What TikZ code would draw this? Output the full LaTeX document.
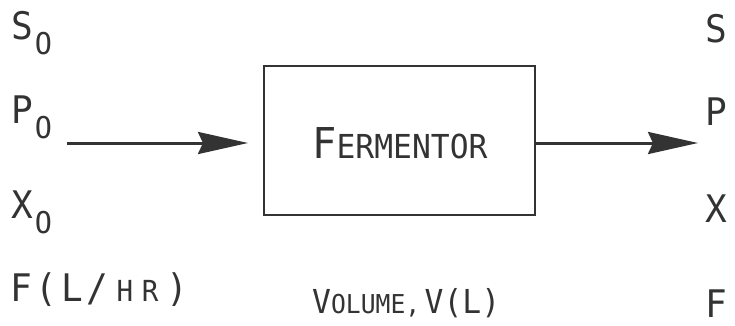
\documentclass[tikz,border=0pt]{standalone}
\usepackage{fontspec}
\setmainfont{DejaVu Sans Mono}[FakeStretch=0.95]
\usetikzlibrary{arrows.meta}
\newcommand{\bigc}{\fontsize{38}{38}\selectfont}
\newcommand{\smc}{\fontsize{26}{26}\selectfont}
\newcommand{\subo}{\hspace{2pt}\raisebox{-15pt}{\fontsize{30}{30}\selectfont O}}
\definecolor{ink}{gray}{0.2}
\begin{document}
\begin{tikzpicture}[x=1pt,y=-1pt,
  lbl/.style={anchor=base west,inner sep=0pt,text=ink},
  flow/.style={line width=3pt,draw=ink,-{Stealth[length=50pt,width=22pt,inset=5pt,fill=ink]}},
  vessel/.style={draw=ink,line width=2.6pt,minimum width=271pt,minimum height=149pt,inner sep=0pt}]
\useasboundingbox (0,0) rectangle (735,326);
% fermentor
\node[vessel] (ferm) at (399.5,140.5) {};
\node[lbl] (fermtxt) at (312,158) {{\fontsize{42.5}{42.5}\selectfont F}{\fontsize{33}{33}\selectfont ERMENTOR}};
\node[lbl] (vol) at (312,313) {{\fontsize{33}{33}\selectfont V}{\smc OLUME,\,}{\fontsize{33}{33}\selectfont V(L)}};
% inlet labels
\node[lbl] (s0) at (11,40) {\bigc S\subo};
\node[lbl] (p0) at (11,123) {\bigc P\subo};
\node[lbl] (x0) at (11,218) {\bigc X\subo};
\node[lbl] (f0) at (10,301) {{\bigc\addfontfeature{LetterSpace=10}F(L/}\hspace{8pt}{\fontsize{29}{29}\selectfont\addfontfeature{LetterSpace=30}HR}\hspace{8pt}{\bigc )}};
% outlet labels
\node[lbl] (s1) at (705,43) {\bigc S};
\node[lbl] (p1) at (705,125) {\bigc P};
\node[lbl] (x1) at (705,222) {\bigc X};
\node[lbl] (f1) at (705,317) {\bigc F};
% arrows
\coordinate (inStart) at (67,143);
\coordinate (inEnd) at (248,143);
\coordinate (outEnd) at (698,143);
\draw[flow] (inStart) -- (inEnd);
\draw[flow] (ferm.east |- outEnd) -- (outEnd);
\end{tikzpicture}
\end{document}
